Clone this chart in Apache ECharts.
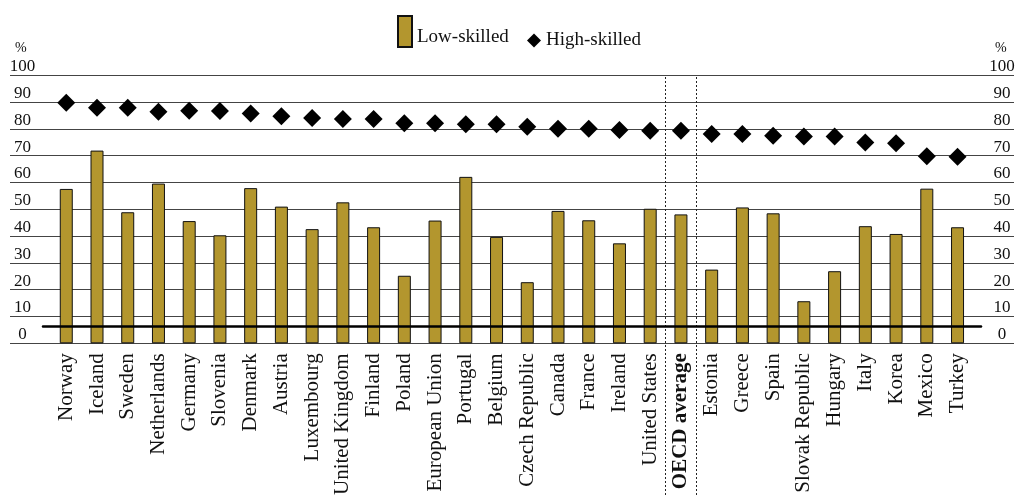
<!DOCTYPE html>
<html>
<head>
<meta charset="utf-8">
<script src="https://cdn.jsdelivr.net/npm/echarts@6/dist/echarts.min.js"></script>
<style>
html,body{margin:0;padding:0;background:#fff;}
#chart{width:1015px;height:495px;}
</style>
</head>
<body>
<div id="chart"></div>
<script>
const categories = ['Norway','Iceland','Sweden','Netherlands','Germany','Slovenia','Denmark','Austria','Luxembourg','United Kingdom','Finland','Poland','European Union','Portugal','Belgium','Czech Republic','Canada','France','Ireland','United States','OECD average','Estonia','Greece','Spain','Slovak Republic','Hungary','Italy','Korea','Mexico','Turkey'];
const lowSkilled = [57.6, 71.9, 48.9, 59.6, 45.6, 40.3, 57.9, 51.0, 42.6, 52.6, 43.3, 25.2, 45.8, 62.1, 39.7, 22.8, 49.4, 45.9, 37.3, 50.2, 48.1, 27.5, 50.7, 48.5, 15.7, 26.9, 43.7, 40.8, 57.7, 43.3];
const highSkilled = [89.8, 87.9, 87.9, 86.4, 86.8, 86.7, 85.7, 84.7, 84.1, 83.7, 83.7, 82.1, 82.1, 81.7, 81.7, 80.8, 80.1, 80.1, 79.6, 79.3, 79.3, 78.1, 78.1, 77.4, 77.2, 77.2, 74.9, 74.6, 69.8, 69.6];
const yTicks = [0, 10, 20, 30, 40, 50, 60, 70, 80, 90, 100];
const highlightCategory = 'OECD average';

const FONT = '"Liberation Serif", "DejaVu Serif", serif';
const oecdIdx = categories.indexOf(highlightCategory);

const chart = echarts.init(document.getElementById('chart'));
const yLabelCommon = {
  inside: true, align: 'center', verticalAlign: 'bottom',
  fontFamily: FONT, fontSize: 17, color: '#111', padding: [0, 0, 0, 0]
};
const gridBase = { outerBoundsMode: 'none', containLabel: false };
chart.setOption({
  animation: false,
  backgroundColor: '#fff',
  textStyle: { fontFamily: FONT },
  graphic: [
    { type: 'text', left: 15, top: 41, style: { text: '%', font: '14px ' + FONT, fill: '#111' } },
    { type: 'text', left: 995, top: 41, style: { text: '%', font: '14px ' + FONT, fill: '#111' } }
  ],
  legend: [
    { data: ['Low-skilled'], left: 397, top: 15, padding: 0, itemWidth: 14, itemHeight: 31, icon: 'rect',
      formatter: n => '{a|' + n + '}',
      textStyle: { fontFamily: FONT, fontSize: 19, color: '#111',
        rich: { a: { fontFamily: FONT, fontSize: 19, color: '#111', padding: [12, 0, 0, 0] } } } },
    { data: ['High-skilled'], left: 527, top: 31, padding: 0, itemWidth: 14, itemHeight: 14, icon: 'diamond',
      itemStyle: { color: '#000', opacity: 1 },
      textStyle: { fontFamily: FONT, fontSize: 19, color: '#111' } }
  ],
  grid: [
    Object.assign({ left: 10, right: 1, top: 75.3, bottom: 151.7 }, gridBase),
    Object.assign({ left: 50.9, right: 42.1, top: 75.3, bottom: 151.7 }, gridBase),
    Object.assign({ left: 43, right: 34, top: 75.3, bottom: 169 }, gridBase),
    Object.assign({ left: 50.9, right: 42.1, top: 75, bottom: 0 }, gridBase)
  ],
  xAxis: [
    { gridIndex: 0, type: 'value', min: 0, max: 1, show: false },
    { gridIndex: 1, type: 'category', data: categories,
      axisLine: { show: false }, axisTick: { show: false },
      axisLabel: { interval: 0, rotate: 90, margin: 10, fontFamily: FONT, fontSize: 21, color: '#111',
        formatter: v => v === highlightCategory ? '{b|' + v + '}' : v,
        rich: { b: { fontWeight: 'bold', fontFamily: FONT, fontSize: 21, color: '#111' } } } },
    { gridIndex: 2, type: 'value', min: 0, max: 1, z: 10,
      axisLine: { show: true, lineStyle: { color: '#000', width: 2.5 } },
      axisTick: { show: false }, axisLabel: { show: false }, splitLine: { show: false } },
    { gridIndex: 3, type: 'value', min: -0.5, max: categories.length - 0.5, show: false }
  ],
  yAxis: [
    { gridIndex: 0, type: 'value', min: 0, max: 100, interval: 10, position: 'left',
      axisLine: { show: false }, axisTick: { show: false },
      splitLine: { lineStyle: { color: '#444', width: 1 } },
      axisLabel: Object.assign({ margin: 12.6 }, yLabelCommon) },
    { gridIndex: 0, type: 'value', min: 0, max: 100, interval: 10, position: 'right',
      axisLine: { show: false }, axisTick: { show: false }, splitLine: { show: false },
      axisLabel: Object.assign({ margin: 12 }, yLabelCommon) },
    { gridIndex: 1, type: 'value', min: 0, max: 100, show: false },
    { gridIndex: 2, type: 'value', min: 0, max: 1, show: false },
    { gridIndex: 3, type: 'value', min: 0, max: 1, show: false }
  ],
  series: [
    { name: 'Low-skilled', type: 'bar', xAxisIndex: 1, yAxisIndex: 2, data: lowSkilled, barWidth: 13,
      itemStyle: { color: '#B3962E', borderColor: '#111', borderWidth: 1 } },
    { name: 'High-skilled', type: 'scatter', xAxisIndex: 1, yAxisIndex: 2, data: highSkilled,
      symbol: 'diamond', symbolSize: 18, itemStyle: { color: '#000', opacity: 1 }, z: 5 },
    { name: 'sep', type: 'line', xAxisIndex: 3, yAxisIndex: 4, data: [], silent: true,
      markLine: { silent: true, symbol: 'none', label: { show: false },
        lineStyle: { type: [2, 2], color: '#222', width: 1 },
        data: [{ xAxis: oecdIdx - 0.5 }, { xAxis: oecdIdx + 0.5 }] } }
  ]
});
</script>
</body>
</html>
